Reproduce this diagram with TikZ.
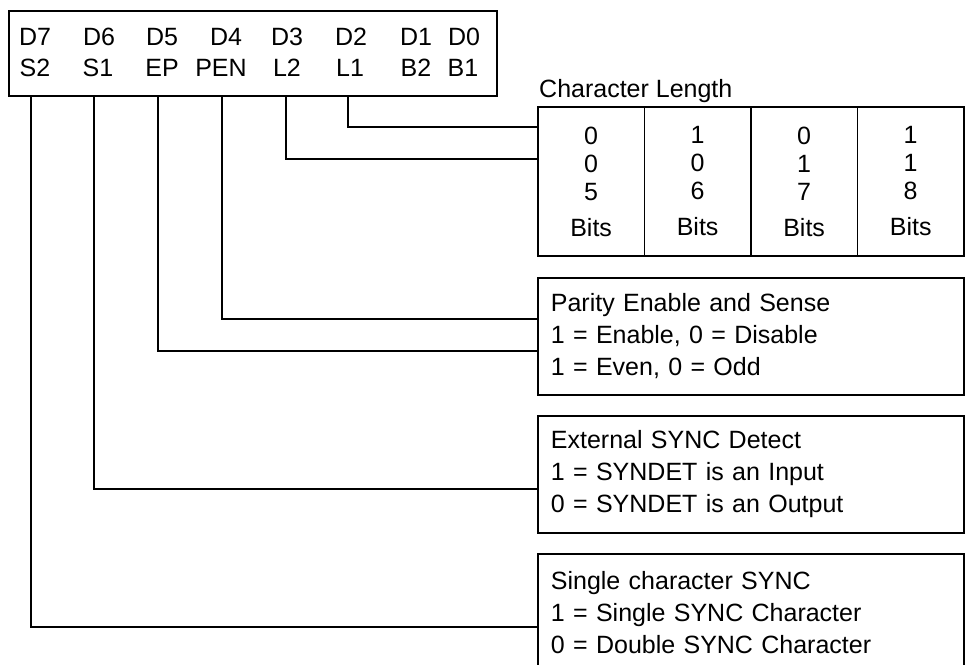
\documentclass[tikz,border=0pt]{standalone}
\usepackage{fontspec}
\setmainfont{Liberation Sans}

\tikzset{
  bitlabel/.style={anchor=base, inner sep=0pt},
  regbox/.style={draw, line width=1.8pt, anchor=north west, inner sep=0pt,
    minimum width=488pt, minimum height=85pt},
  lencell/.style={draw, line width=1.8pt, anchor=north west, inner sep=0pt,
    minimum width=106.5pt, minimum height=149pt, align=center,
    font=\fontsize{25}{28}\selectfont},
  infobox/.style={draw, line width=1.8pt, anchor=north west, align=left,
    text width=400pt, inner xsep=13pt, inner ysep=0pt, minimum height=117pt},
  wire/.style={line width=1.8pt},
}

\begin{document}
\begin{tikzpicture}[x=1pt, y=-1pt, font=\fontsize{25}{32}\selectfont]
  \useasboundingbox (0,0) rectangle (966,664);
  \clip (0,0) rectangle (966,664);

  % Mode instruction register
  \node[regbox] (reg) at (8,10) {};
  \foreach \x/\name in {35/D7, 99/D6, 162/D5, 226/D4, 287/D3, 351/D2, 416/D1, 464/D0}
    \node[bitlabel] (top\name) at (\x,45) {\name};
  \foreach \x/\name in {35/S2, 98/S1, 162/EP, 221/PEN, 287/L2, 350/L1, 416/B2, 463/B1}
    \node[bitlabel] (bot\name) at (\x,76) {\name};

  % Character length table
  \node[anchor=base west, inner sep=0pt] (lenlabel) at (539,97) {Character Length};
  \foreach \i/\a/\b/\n in {0/0/0/5, 1/1/0/6, 2/0/1/7, 3/1/1/8}
    \node[lencell] (len\n) at (537+106.5*\i,106) {\a\\\b\\\n\\[8pt]Bits};

  % Description boxes
  \node[infobox] (parity) at (537,277)
    {Parity Enable and Sense\\1 = Enable, 0 = Disable\\1 = Even, 0 = Odd};
  \node[infobox] (extsync) at (537,415)
    {External SYNC Detect\\1 = SYNDET is an Input\\0 = SYNDET is an Output};
  \node[infobox, minimum height=118pt] (singsync) at (537,553)
    {Single character SYNC\\1 = Single SYNC Character\\0 = Double SYNC Character};

  % Bit lines to the boxes
  \foreach \bx/\by/\dst in {348/127/len5, 286/159/len5, 222/319/parity,
      158/351/parity, 94/489/extsync, 31/627/singsync}
    \draw[wire] (reg.south -| \bx,0) |- (\dst.west |- 0,\by);
\end{tikzpicture}
\end{document}
